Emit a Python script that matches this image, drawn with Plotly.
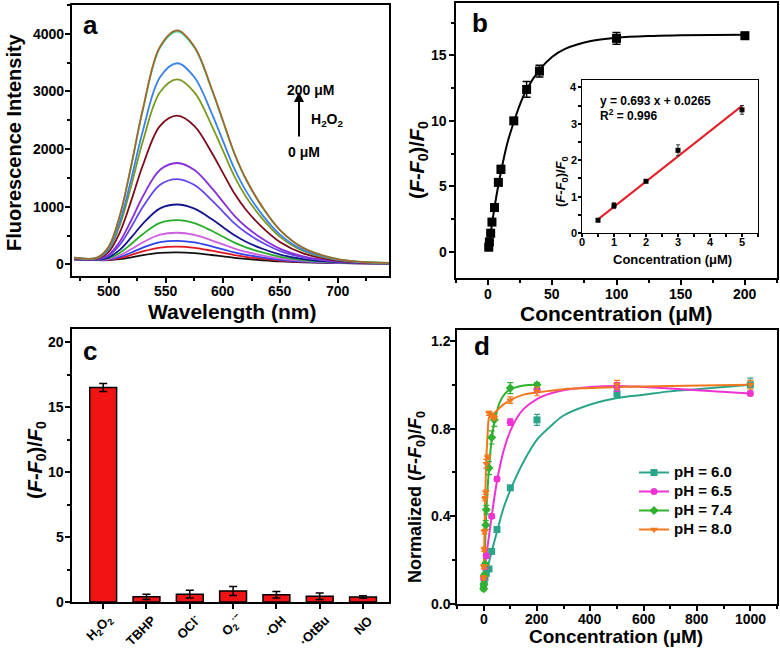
import plotly.graph_objects as go

FONT = "Liberation Sans, Arial, sans-serif"
W, H = 780, 652

# ---------------- Panel a: emission spectra ----------------
wavelength = [470, 490, 500, 510, 520, 530, 545, 560, 575, 590, 600, 610, 620, 635, 650, 670, 700, 745]
spec_black = [86, 74, 75, 92, 124, 161, 201, 210, 196, 164, 140, 115, 96, 73, 54, 38, 25, 15]
spec_red = [87, 75, 81, 112, 166, 227, 294, 310, 289, 239, 201, 162, 132, 96, 68, 45, 27, 16]
spec_blue = [88, 76, 87, 132, 208, 293, 387, 410, 382, 314, 262, 209, 168, 120, 82, 51, 28, 16]
spec_magenta = [89, 78, 95, 160, 267, 385, 517, 550, 512, 419, 347, 275, 218, 153, 102, 61, 31, 17]
spec_green = [91, 81, 108, 204, 359, 530, 722, 770, 717, 584, 481, 378, 297, 204, 133, 75, 35, 17]
spec_navy = [93, 84, 124, 258, 473, 708, 973, 1040, 968, 787, 646, 505, 394, 268, 171, 92, 40, 18]
spec_violet = [96, 89, 151, 346, 658, 999, 1382, 1480, 1377, 1117, 914, 712, 553, 371, 232, 121, 48, 19]
spec_purple = [99, 93, 168, 402, 775, 1184, 1642, 1760, 1637, 1327, 1085, 844, 654, 437, 271, 139, 53, 20]
spec_maroon = [105, 102, 217, 566, 1120, 1725, 2405, 2580, 2400, 1942, 1585, 1229, 949, 630, 386, 192, 68, 23]
spec_olive = [110, 110, 255, 692, 1384, 2141, 2991, 3210, 2986, 2414, 1970, 1525, 1176, 778, 474, 233, 79, 24]
spec_lightblue = [113, 113, 271, 748, 1502, 2325, 3251, 3490, 3246, 2624, 2140, 1657, 1276, 843, 514, 252, 84, 25]
spec_cyan = [117, 120, 304, 858, 1733, 2688, 3763, 4040, 3758, 3037, 2476, 1915, 1474, 973, 591, 287, 94, 27]
spec_brown = [117, 120, 306, 862, 1741, 2702, 3781, 4060, 3776, 3052, 2488, 1925, 1482, 977, 593, 288, 94, 27]
spectra = [spec_black, spec_red, spec_blue, spec_magenta, spec_green, spec_navy, spec_violet,
           spec_purple, spec_maroon, spec_olive, spec_lightblue, spec_cyan, spec_brown]
spec_colors = ["#111111", "#e3151f", "#2f44ee", "#cf5fe2", "#27ad2a", "#14148f", "#6446ec",
               "#8a2fd6", "#7c0a1c", "#7a9a22", "#3a82e6", "#42dca2", "#a2662a"]
a_xticks = [500, 550, 600, 650, 700]
a_yticks = [0, 1000, 2000, 3000, 4000]

# ---------------- Panel b: titration ----------------
conc_b = [0.5, 1, 2, 3, 5, 8, 10, 20, 30, 40, 100, 200]
ratio_b = [0.35, 0.75, 1.42, 2.27, 3.38, 5.3, 6.3, 10.0, 12.4, 13.8, 16.3, 16.5]
err_b = [0.1, 0.1, 0.08, 0.15, 0.15, 0.15, 0.3, 0.2, 0.6, 0.45, 0.45, 0.25]
fit_b_x = [0, 2, 5, 8, 10, 15, 20, 25, 30, 40, 50, 60, 80, 100, 125, 150, 175, 200]
fit_b_y = [0.3, 1.45, 3.4, 5.1, 6.1, 8.3, 9.9, 11.3, 12.4, 13.9, 14.9, 15.5, 16.1, 16.35, 16.48, 16.53, 16.56, 16.57]
b_xticks = [0, 50, 100, 150, 200]
b_yticks = [0, 5, 10, 15]

# inset
conc_in = [0.5, 1, 2, 3, 5]
ratio_in = [0.35, 0.75, 1.42, 2.27, 3.38]
err_in = [0.03, 0.08, 0.03, 0.15, 0.12]
fit_in_x = [0.5, 5]
fit_in_y = [0.373, 3.49]
in_xticks = [0, 1, 2, 3, 4, 5]
in_yticks = [0, 1, 2, 3, 4]

# ---------------- Panel c: selectivity ----------------
species = ["H<sub>2</sub>O<sub>2</sub>", "TBHP", "OCl<sup>-</sup>", "O<sub>2</sub><sup>·−</sup>",
           "·OH", "·OtBu", "NO"]
resp_c = [16.5, 0.4, 0.6, 0.85, 0.55, 0.45, 0.38]
err_c = [0.3, 0.2, 0.3, 0.35, 0.25, 0.25, 0.1]
c_yticks = [0, 5, 10, 15, 20]
# approximate rendered label widths (px) used only to place the rotated labels
label_w = [30, 35, 26, 21, 23, 35, 20]

# ---------------- Panel d: pH ----------------
ph_labels = ["pH = 6.0", "pH = 6.5", "pH = 7.4", "pH = 8.0"]
ph_colors = ["#2aa58a", "#f032d2", "#2fb22f", "#f2781e"]
ph_symbols = ["square", "circle", "diamond", "triangle-down"]

x60 = [0, 2, 5, 10, 20, 30, 50, 100, 200, 500, 1000]
y60 = [0.08, 0.10, 0.12, 0.14, 0.16, 0.24, 0.34, 0.53, 0.84, 0.96, 1.0]
e60 = [0.01, 0.01, 0.01, 0.01, 0.01, 0.01, 0.01, 0.01, 0.025, 0.02, 0.03]
x65 = [0, 5, 10, 30, 50, 100, 200, 500, 1000]
y65 = [0.12, 0.17, 0.22, 0.40, 0.57, 0.83, 0.98, 0.99, 0.96]
e65 = [0.01, 0.01, 0.01, 0.01, 0.01, 0.015, 0.015, 0.02, 0.01]
x74 = [0, 1, 2, 5, 8, 10, 20, 30, 40, 100, 200]
y74 = [0.07, 0.09, 0.13, 0.18, 0.36, 0.43, 0.62, 0.76, 0.84, 0.985, 1.0]
e74 = [0.01, 0.01, 0.01, 0.01, 0.02, 0.02, 0.03, 0.03, 0.03, 0.025, 0.01]
x80 = [0, 1, 2, 3, 5, 8, 10, 15, 20, 30, 40, 100, 200, 500, 1000]
y80 = [0.12, 0.17, 0.25, 0.33, 0.48, 0.51, 0.64, 0.67, 0.87, 0.86, 0.85, 0.93, 0.97, 1.0, 1.0]
e80 = [0.01, 0.01, 0.01, 0.01, 0.01, 0.01, 0.02, 0.01, 0.01, 0.01, 0.01, 0.015, 0.02, 0.02, 0.02]

fx60 = [0, 10, 20, 30, 50, 75, 100, 150, 200, 250, 300, 400, 500, 600, 700, 800, 900, 1000]
fy60 = [0.09, 0.14, 0.19, 0.24, 0.33, 0.44, 0.52, 0.65, 0.75, 0.81, 0.86, 0.91, 0.94, 0.955, 0.97, 0.98, 0.99, 1.0]
fx65 = [0, 10, 20, 30, 50, 75, 100, 125, 150, 200, 250, 300, 400, 500, 600, 800, 1000]
fy65 = [0.12, 0.22, 0.31, 0.40, 0.56, 0.70, 0.79, 0.85, 0.89, 0.935, 0.96, 0.975, 0.99, 0.995, 0.99, 0.975, 0.96]
fx74 = [0, 5, 10, 15, 20, 30, 40, 50, 60, 80, 100, 125, 150, 200]
fy74 = [0.08, 0.25, 0.42, 0.53, 0.62, 0.75, 0.83, 0.88, 0.92, 0.96, 0.98, 0.99, 0.997, 1.0]
fx80 = [0, 2, 5, 8, 10, 15, 20, 25, 30, 40, 60, 80, 100, 150, 200, 300, 400, 500, 700, 1000]
fy80 = [0.12, 0.25, 0.45, 0.58, 0.66, 0.78, 0.85, 0.86, 0.86, 0.87, 0.895, 0.915, 0.93, 0.955, 0.965, 0.98, 0.985, 0.99, 0.995, 1.0]
d_xticks = [0, 200, 400, 600, 800, 1000]
d_yticks = [0.0, 0.4, 0.8, 1.2]

ph_points = [(x60, y60, e60), (x65, y65, e65), (x74, y74, e74), (x80, y80, e80)]
ph_fits = [(fx60, fy60), (fx65, fy65), (fx74, fy74), (fx80, fy80)]

# ---------------- figure ----------------
fig = go.Figure()

for ys, col in zip(spectra, spec_colors):
    fig.add_trace(go.Scatter(x=wavelength, y=ys, mode="lines", line=dict(color=col, width=1.8, shape="spline", smoothing=1.0),
                             xaxis="x", yaxis="y", showlegend=False))

fig.add_trace(go.Scatter(x=fit_b_x, y=fit_b_y, mode="lines", line=dict(color="black", width=2, shape="spline"),
                         xaxis="x2", yaxis="y2", showlegend=False))
fig.add_trace(go.Scatter(x=conc_b, y=ratio_b, mode="markers", marker=dict(symbol="square", size=9, color="black"),
                         error_y=dict(type="data", array=err_b, color="black", thickness=1.5, width=4),
                         xaxis="x2", yaxis="y2", showlegend=False))

fig.add_trace(go.Scatter(x=fit_in_x, y=fit_in_y, mode="lines", line=dict(color="#e3202a", width=2),
                         xaxis="x3", yaxis="y3", showlegend=False))
fig.add_trace(go.Scatter(x=conc_in, y=ratio_in, mode="markers", marker=dict(symbol="square", size=5, color="black"),
                         error_y=dict(type="data", array=err_in, color="#333333", thickness=1, width=2),
                         xaxis="x3", yaxis="y3", showlegend=False))

cat_pos = list(range(len(species)))
fig.add_trace(go.Bar(x=cat_pos, y=resp_c, width=0.62, marker=dict(color="#f21414", line=dict(color="black", width=1.5)),
                     error_y=dict(type="data", array=err_c, color="black", thickness=1.5, width=4),
                     xaxis="x4", yaxis="y4", showlegend=False))

for (fx, fy), col in zip(ph_fits, ph_colors):
    fig.add_trace(go.Scatter(x=fx, y=fy, mode="lines", line=dict(color=col, width=2, shape="spline"),
                             xaxis="x5", yaxis="y5", showlegend=False))
for (px, py, pe), col, sym in zip(ph_points, ph_colors, ph_symbols):
    fig.add_trace(go.Scatter(x=px, y=py, mode="markers", marker=dict(symbol=sym, size=7, color=col),
                             error_y=dict(type="data", array=pe, color=col, thickness=1.2, width=3),
                             xaxis="x5", yaxis="y5", showlegend=False))
for lab, col, sym in zip(ph_labels, ph_colors, ph_symbols):
    fig.add_trace(go.Scatter(x=[None], y=[None], mode="lines+markers",
                             name="<b><span style='font-size:15px'>" + lab + "</span></b>",
                             line=dict(color=col, width=2), marker=dict(symbol=sym, size=7, color=col),
                             xaxis="x5", yaxis="y5", showlegend=True))


def axis(dom, rng, anchor, dtick=None, mdtick=None, lw=2, **kw):
    d = dict(domain=dom, range=rng, anchor=anchor, showline=True, linewidth=lw, linecolor="black", mirror=True,
             ticks="outside", ticklen=5, tickwidth=1.5, tickcolor="black", showgrid=False, zeroline=False,
             showticklabels=False)
    if dtick is not None:
        d["dtick"] = dtick
    if mdtick is not None:
        d["minor"] = dict(dtick=mdtick, ticks="outside", ticklen=3, tickwidth=1.5, tickcolor="black", showgrid=False)
    d.update(kw)
    return d


def px_x(p):
    return p / W


def px_y(p):
    return 1 - p / H


fig.update_layout(
    width=W, height=H, autosize=False, margin=dict(l=0, r=0, t=0, b=0, pad=0),
    paper_bgcolor="white", plot_bgcolor="white", hovermode=False,
    font=dict(family=FONT, color="black"),
    xaxis=axis([px_x(72), px_x(389)], [468, 745], "y", dtick=50, mdtick=25, tick0=500),
    yaxis=axis([px_y(276), px_y(5)], [-200, 4500], "x", dtick=1000, mdtick=500),
    xaxis2=axis([px_x(456), px_x(777)], [-25, 225], "y2", dtick=50, mdtick=25),
    yaxis2=axis([px_y(278), px_y(3)], [-2, 19], "x2", dtick=5, mdtick=2.5),
    xaxis3=axis([px_x(582), px_x(758)], [0, 5.5], "y3", dtick=1, mdtick=0.5, lw=1.2, ticklen=3),
    yaxis3=axis([px_y(233), px_y(80)], [0, 4.2], "x3", dtick=1, mdtick=0.5, lw=1.2, ticklen=3),
    xaxis4=axis([px_x(72), px_x(389)], [-0.72, 6.6], "y4", tickmode="array", tickvals=cat_pos),
    yaxis4=axis([px_y(602), px_y(329)], [0, 21], "x4", dtick=5, mdtick=2.5),
    xaxis5=axis([px_x(457), px_x(777)], [-100, 1100], "y5", dtick=200, mdtick=100),
    yaxis5=axis([px_y(604), px_y(330)], [0, 1.25], "x5", dtick=0.4, mdtick=0.2),
    legend=dict(x=px_x(634), y=px_y(458), xanchor="left", yanchor="top", bgcolor="rgba(0,0,0,0)",
                font=dict(family=FONT, size=12, color="black"), itemwidth=30, tracegroupgap=0),
)


def tfont(size):
    return dict(family=FONT, size=size, color="black")


def xlabels(xid, yid, vals, texts, size, shift):
    for v, t in zip(vals, texts):
        fig.add_annotation(x=v, y=0, xref=xid, yref=yid + " domain", text="<b>" + t + "</b>", showarrow=False,
                           xanchor="center", yanchor="middle", yshift=-shift, font=tfont(size))


def ylabels(xid, yid, vals, texts, size, shift):
    for v, t in zip(vals, texts):
        fig.add_annotation(x=0, y=v, xref=xid + " domain", yref=yid, text="<b>" + t + "</b>", showarrow=False,
                           xanchor="right", yanchor="middle", xshift=-shift, font=tfont(size))


xlabels("x", "y", a_xticks, [str(v) for v in a_xticks], 14, 15)
ylabels("x", "y", a_yticks, [str(v) for v in a_yticks], 14, 6)
xlabels("x2", "y2", b_xticks, [str(v) for v in b_xticks], 14, 16)
ylabels("x2", "y2", b_yticks, [str(v) for v in b_yticks], 14, 7)
xlabels("x3", "y3", in_xticks, [str(v) for v in in_xticks], 11, 9)
ylabels("x3", "y3", in_yticks, [str(v) for v in in_yticks], 11, 3)
ylabels("x4", "y4", c_yticks, [str(v) for v in c_yticks], 14, 6)
xlabels("x5", "y5", d_xticks, [str(v) for v in d_xticks], 14, 15)
ylabels("x5", "y5", d_yticks, ["%.1f" % v for v in d_yticks], 14, 4)
for pos, name, w in zip(cat_pos, species, label_w):
    fig.add_annotation(x=pos, y=0, xref="x4", yref="y4 domain", text="<b>" + name + "</b>", showarrow=False,
                       textangle=-45, xanchor="center", yanchor="middle",
                       xshift=7 - 0.354 * w, yshift=-(16 + 0.354 * w), font=tfont(13))

FRAC = "(<i>F</i>-<i>F</i><sub>0</sub>)/<i>F</i><sub>0</sub>"


def note(text, x, y, size, angle=0, anchor="center"):
    fig.add_annotation(text="<b>" + text + "</b>", x=px_x(x), y=px_y(y), xref="paper", yref="paper",
                       showarrow=False, textangle=angle, xanchor=anchor, yanchor="middle",
                       font=dict(family=FONT, size=size, color="black"))


note("Fluorescence Intensity", 14, 142, 20, -90)
note("Wavelength (nm)", 232, 311, 21)
note(FRAC, 418, 160, 20, -90)
note("Concentration (μM)", 616, 313, 21)
note("Concentration (μM)", 672, 259, 13)
note(FRAC, 562, 182, 13, -90)
note("y = 0.693 x + 0.0265", 598, 101, 12, anchor="left")
note("R<sup>2</sup> = 0.996", 598, 115, 12, anchor="left")
note(FRAC, 36, 460, 20, -90)
note("Normalized " + FRAC, 416, 497, 18, -90)
note("Concentration (μM)", 616, 636, 19)
note("a", 90, 25, 26)
note("b", 480, 23, 26)
note("c", 90, 351, 26)
note("d", 482, 346, 26)
note("200 μM", 310, 90, 14)
note("H<sub>2</sub>O<sub>2</sub>", 327, 120, 14)
note("0 μM", 304, 152, 14)
fig.add_annotation(text="", x=px_x(299), y=px_y(92), xref="paper", yref="paper", ax=0, ay=46,
                   showarrow=True, arrowhead=2, arrowsize=1, arrowwidth=2, arrowcolor="black")

fig.write_html("out.html", config={"displayModeBar": False},
               post_script="document.body.style.margin='0px';document.body.style.overflow='hidden';")
